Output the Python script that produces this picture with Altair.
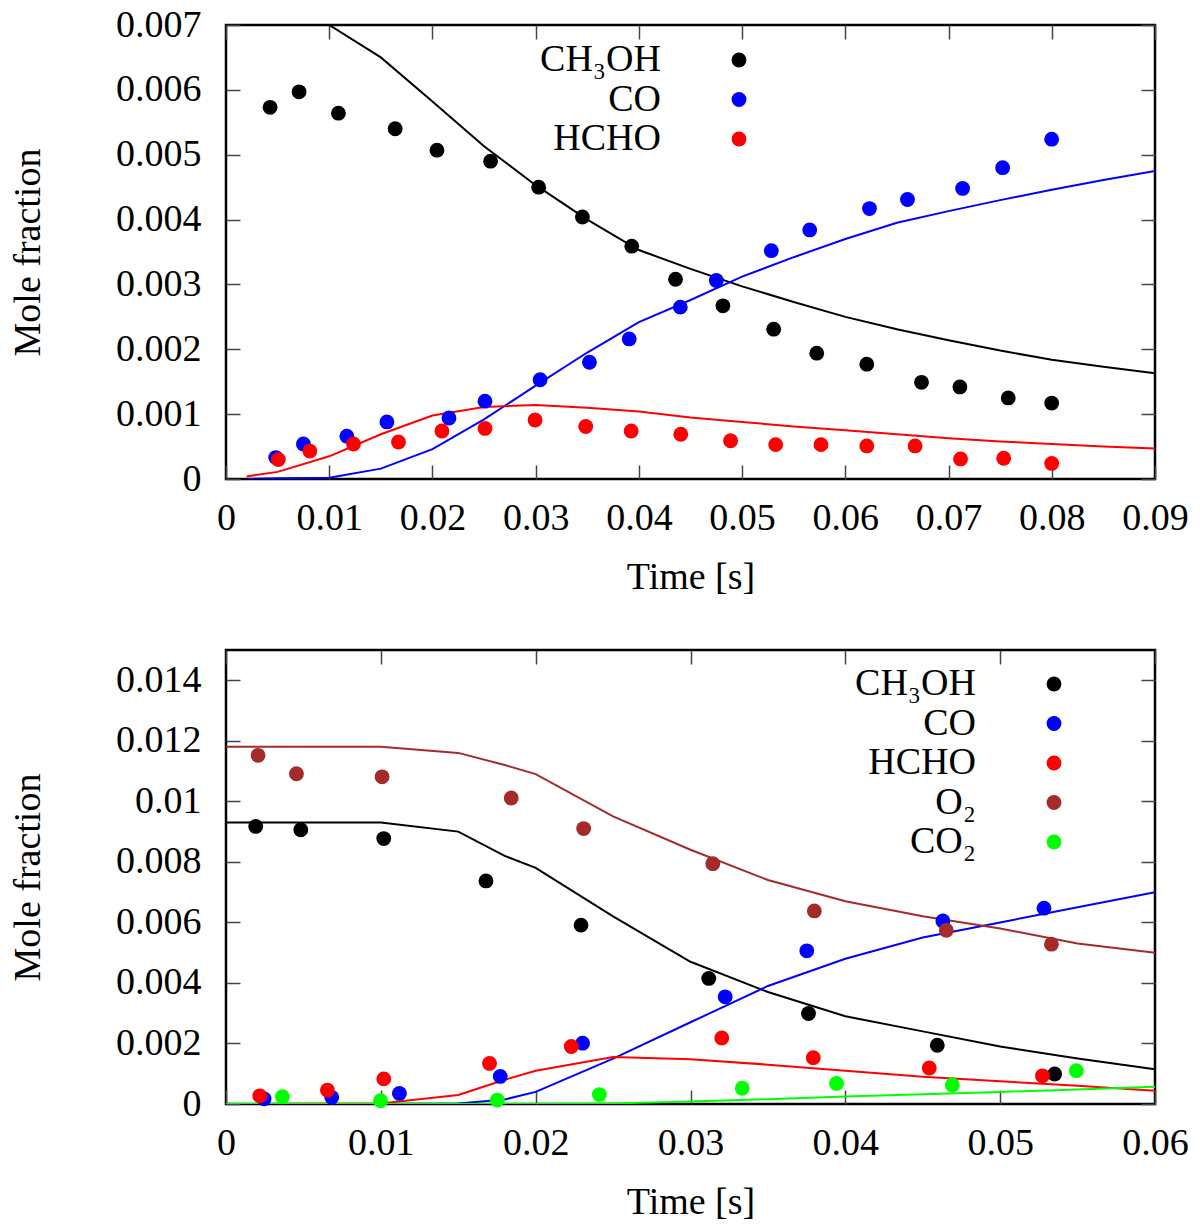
import pandas as pd
import altair as alt

# ---- top panel (0.09 s run) ----
top_species = ["CH₃OH", "CO", "HCHO"]
top_colors = ["#000000", "#0000ff", "#ff0000"]

# measured points
top_t_ch3oh = [0.00427, 0.00708, 0.01089, 0.01639, 0.02044, 0.02563, 0.03029, 0.03453, 0.03931,
               0.04355, 0.04814, 0.05306, 0.05723, 0.06208, 0.06738, 0.07110, 0.07578, 0.07999]
top_ch3oh = [0.00573, 0.00597, 0.00564, 0.00540, 0.00507, 0.00490, 0.00450, 0.00404, 0.00359,
             0.00308, 0.00267, 0.00231, 0.00194, 0.00177, 0.00149, 0.00142, 0.00125, 0.00117]
top_t_co = [0.00482, 0.00750, 0.01171, 0.01559, 0.02160, 0.02509, 0.03043, 0.03521, 0.03906,
            0.04401, 0.04750, 0.05283, 0.05655, 0.06234, 0.06602, 0.07136, 0.07524, 0.07999]
top_co = [0.00033, 0.00054, 0.00066, 0.00088, 0.00094, 0.00120, 0.00153, 0.00180, 0.00216,
          0.00265, 0.00306, 0.00352, 0.00384, 0.00417, 0.00431, 0.00448, 0.00480, 0.00524]
top_t_hcho = [0.00507, 0.00812, 0.01235, 0.01671, 0.02092, 0.02509, 0.02994, 0.03485, 0.03925,
              0.04406, 0.04888, 0.05325, 0.05764, 0.06208, 0.06676, 0.07116, 0.07534, 0.07999]
top_hcho = [0.00030, 0.00043, 0.00054, 0.00057, 0.00074, 0.00078, 0.00091, 0.00081, 0.00074,
            0.00069, 0.00059, 0.00053, 0.00053, 0.00051, 0.00051, 0.00031, 0.00032, 0.00024]

# model curves
top_model_t = [0.002, 0.005, 0.01, 0.015, 0.02, 0.025, 0.03, 0.035, 0.04, 0.045,
               0.05, 0.055, 0.06, 0.065, 0.07, 0.075, 0.08, 0.085, 0.09]
top_model_ch3oh = [0.00745, 0.00735, 0.00700, 0.00650, 0.00582, 0.00513, 0.00453, 0.00400, 0.00353, 0.00324,
                   0.00297, 0.00273, 0.00250, 0.00231, 0.00214, 0.00198, 0.00184, 0.00173, 0.00163]
top_model_co = [0.0, 0.00001, 0.00002, 0.00016, 0.00046, 0.00092, 0.00144, 0.00195, 0.00242, 0.00276,
                0.00312, 0.00342, 0.00370, 0.00395, 0.00413, 0.00430, 0.00446, 0.00461, 0.00475]
top_model_hcho = [0.00004, 0.00011, 0.00035, 0.00069, 0.00098, 0.00111, 0.00114, 0.00110, 0.00104, 0.00095,
                  0.00088, 0.00081, 0.00075, 0.00069, 0.00063, 0.00058, 0.00054, 0.00050, 0.00047]

top_xticks = [0, 0.01, 0.02, 0.03, 0.04, 0.05, 0.06, 0.07, 0.08, 0.09]
top_yticks = [0, 0.001, 0.002, 0.003, 0.004, 0.005, 0.006, 0.007]

# ---- bottom panel (0.06 s run) ----
bot_species = ["CH₃OH", "CO", "HCHO", "O₂", "CO₂"]
bot_colors = ["#000000", "#0000ff", "#ff0000", "#a52a2a", "#00ff00"]

bot_t_ch3oh = [0.00192, 0.00483, 0.01019, 0.01679, 0.02293, 0.03118, 0.03762, 0.04594, 0.05352]
bot_ch3oh = [0.00917, 0.00906, 0.00877, 0.00737, 0.00591, 0.00415, 0.00299, 0.00194, 0.00099]
bot_t_co = [0.00246, 0.00683, 0.01120, 0.01771, 0.02303, 0.03224, 0.03751, 0.04630, 0.05283]
bot_co = [0.00017, 0.00022, 0.00035, 0.00091, 0.00201, 0.00354, 0.00506, 0.00605, 0.00647]
bot_t_hcho = [0.00218, 0.00655, 0.01019, 0.01702, 0.02230, 0.03202, 0.03793, 0.04542, 0.05273]
bot_hcho = [0.00027, 0.00046, 0.00083, 0.00134, 0.00190, 0.00218, 0.00153, 0.00119, 0.00093]
bot_t_o2 = [0.00207, 0.00455, 0.01008, 0.01842, 0.02310, 0.03144, 0.03800, 0.04652, 0.05331]
bot_o2 = [0.01152, 0.01091, 0.01081, 0.01011, 0.00910, 0.00794, 0.00638, 0.00574, 0.00528]
bot_t_co2 = [0.00364, 0.00998, 0.01752, 0.02411, 0.03334, 0.03943, 0.04691, 0.05492]
bot_co2 = [0.00024, 0.00011, 0.00013, 0.00031, 0.00052, 0.00068, 0.00063, 0.00110]

bot_model_t = [0.0, 0.01, 0.015, 0.018, 0.02, 0.025, 0.03, 0.035, 0.04, 0.045, 0.05, 0.055, 0.06]
bot_model_ch3oh = [0.0093, 0.0093, 0.0090, 0.0082, 0.0078, 0.0062, 0.0047, 0.0037, 0.0029, 0.0024, 0.0019, 0.0015, 0.00115]
bot_model_co = [0.0, 0.0, 0.00002, 0.00015, 0.0004, 0.0015, 0.0027, 0.0039, 0.0048, 0.0055, 0.0060, 0.0065, 0.0070]
bot_model_hcho = [0.0, 0.00002, 0.0003, 0.0008, 0.0011, 0.00155, 0.00148, 0.0013, 0.0011, 0.0009, 0.00075, 0.0006, 0.00044]
bot_model_o2 = [0.0118, 0.0118, 0.0116, 0.0112, 0.0109, 0.0095, 0.0084, 0.0074, 0.0067, 0.0062, 0.0058, 0.0053, 0.0050]
bot_model_co2 = [0.0, 0.0, 0.0, 0.0, 0.0, 0.00002, 0.00008, 0.00016, 0.00025, 0.00032, 0.0004, 0.00048, 0.00057]

bot_xticks = [0, 0.01, 0.02, 0.03, 0.04, 0.05, 0.06]
bot_yticks = [0, 0.002, 0.004, 0.006, 0.008, 0.01, 0.012, 0.014]


def long_points(names, ts, ys):
    frames = [pd.DataFrame({"species": n, "t": t, "x": y}) for n, t, y in zip(names, ts, ys)]
    return pd.concat(frames, ignore_index=True)


def long_model(names, t, ys):
    frames = [pd.DataFrame({"species": n, "t": t, "x": y}) for n, y in zip(names, ys)]
    return pd.concat(frames, ignore_index=True)


top_pts = long_points(top_species, [top_t_ch3oh, top_t_co, top_t_hcho], [top_ch3oh, top_co, top_hcho])
top_lines = long_model(top_species, top_model_t, [top_model_ch3oh, top_model_co, top_model_hcho])
bot_pts = long_points(bot_species, [bot_t_ch3oh, bot_t_co, bot_t_hcho, bot_t_o2, bot_t_co2],
                      [bot_ch3oh, bot_co, bot_hcho, bot_o2, bot_co2])
bot_lines = long_model(bot_species, bot_model_t,
                       [bot_model_ch3oh, bot_model_co, bot_model_hcho, bot_model_o2, bot_model_co2])

FONT = "Liberation Serif, Times New Roman, Times, DejaVu Serif, serif"
TICK = dict(offset=-14, tickSize=14, tickColor="#444444", tickWidth=1.5, domain=False, grid=False,
            labelFlush=False, labelOverlap=False)


def panel(pts, lines, species, colors, xmax, ymax, xticks, yticks, leg_x, leg_y):
    xs = alt.Scale(domain=[0, xmax], nice=False, zero=False)
    ys = alt.Scale(domain=[0, ymax], nice=False, zero=False)
    cs = alt.Scale(domain=species, range=colors)

    # model lines carry the labelled bottom/left axes
    model = alt.Chart(lines).mark_line(strokeWidth=2, clip=True).encode(
        x=alt.X("t:Q", scale=xs, axis=alt.Axis(orient="bottom", values=xticks, format="~g",
                                               title="Time [s]", labelPadding=20, titlePadding=21, **TICK)),
        y=alt.Y("x:Q", scale=ys, axis=alt.Axis(orient="left", values=yticks, format="~g",
                                               title="Mole fraction", labelPadding=25, titlePadding=68, **TICK)),
        color=alt.Color("species:N", scale=cs, legend=None),
    )

    # measured points carry the mirrored top/right ticks and the key
    meas = alt.Chart(pts).mark_circle(size=220, opacity=1).encode(
        x=alt.X("t:Q", scale=xs, axis=alt.Axis(orient="top", values=xticks, labels=False, title="", **TICK)),
        y=alt.Y("x:Q", scale=ys, axis=alt.Axis(orient="right", values=yticks, labels=False, title="", **TICK)),
        color=alt.Color("species:N", scale=cs, sort=species, legend=alt.Legend(
            title=None, orient="none", legendX=leg_x, legendY=leg_y, padding=0,
            labelAlign="right", labelOffset={"expr": "-97"}, labelFont=FONT, labelFontSize=38,
            labelColor="black", labelLimit=400, symbolType="circle", symbolSize=220,
            symbolStrokeWidth=0, rowPadding=1.5,
        )),
    )

    return (
        alt.layer(model, meas)
        .resolve_axis(x="independent", y="independent")
        .resolve_legend(color="independent")
        .properties(width=929, height=454)
    )


top = panel(top_pts, top_lines, top_species, top_colors, 0.09, 0.007, top_xticks, top_yticks, 494, 16)
bottom = panel(bot_pts, bot_lines, bot_species, bot_colors, 0.06, 0.015, bot_xticks, bot_yticks, 809, 15)

chart = (
    alt.vconcat(top, bottom, spacing=50)
    .resolve_scale(color="independent")
    .resolve_legend(color="independent")
    .properties(padding={"left": 0, "top": -4, "right": 0, "bottom": 0})
    .configure_view(stroke="black", strokeWidth=2.5)
    .configure_axis(labelFont=FONT, labelFontSize=38, labelColor="black",
                    titleFont=FONT, titleFontSize=38, titleFontWeight="normal", titleColor="black")
)

chart.save("out.html", embed_options={"renderer": "svg", "actions": False})
